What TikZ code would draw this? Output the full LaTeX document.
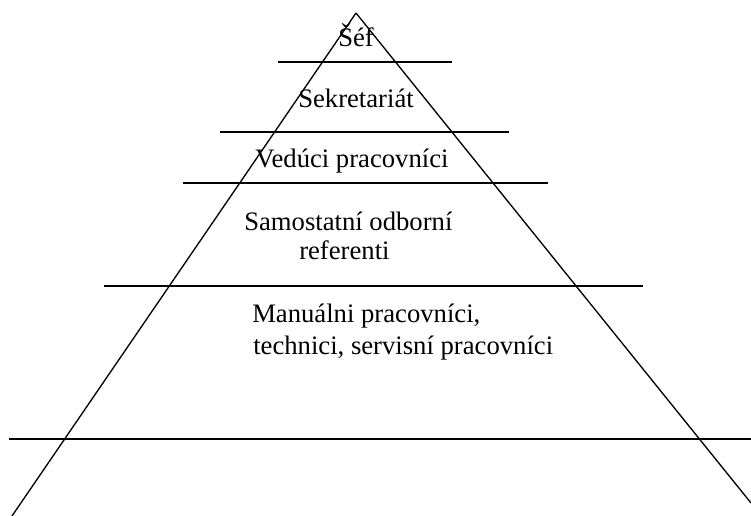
\documentclass[tikz,border=0pt]{standalone}
\usepackage{fontspec}
\setmainfont{Liberation Serif}
\usepackage{tikz}
\tikzset{
  level/.style={anchor=base west, inner sep=0pt, font=\fontsize{20}{24}\selectfont},
  edge/.style={line width=1pt}
}

\begin{document}
\begin{tikzpicture}[x=0.75pt,y=-0.75pt]
  \useasboundingbox (0,0) rectangle (751,516);
  \coordinate (T) at (356,13);
  \coordinate (L) at (12,516);
  \coordinate (R) at (751,503);

  % sides of the pyramid
  \draw [edge] (T) -- (L);
  \draw [edge] (T) -- (R);

  % horizontal dividers
  \foreach \y / \xa / \xb in {62/278/452, 132/220/509, 183/183/548, 286/104/643, 439/9/751}
  {
    \draw [edge] (\xa,\y) -- (\xb,\y);
  }

  \node [level] (sef)  at (338,47)  {Šéf};
  \node [level] (sekr) at (298,108) {Sekretariát};
  \node [level] (ved)  at (255,168) {Vedúci pracovníci};
  \node [level] (sam1) at (244,231) {Samostatní odborní};
  \node [level] (sam2) at (299,260) {referenti};
  \node [level] (man1) at (252,323) {Manuálni pracovníci,};
  \node [level] (man2) at (253,355) {technici, servisní pracovníci};
\end{tikzpicture}
\end{document}
